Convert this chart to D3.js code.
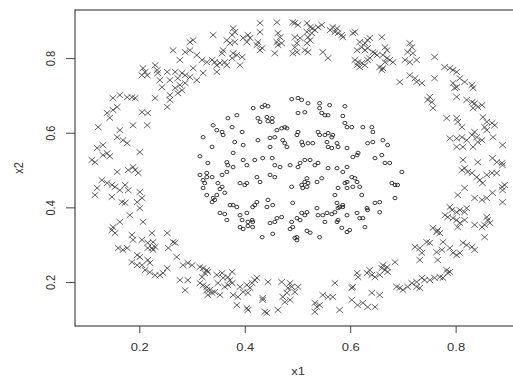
<!DOCTYPE html>
<html>
<head>
<meta charset="utf-8">
<script src="https://cdn.jsdelivr.net/npm/d3@7"></script>
<style>
  body { margin: 0; background: #fff; }
  svg { display: block; font-family: "Liberation Sans", Arial, sans-serif; }
</style>
</head>
<body>
<div id="chart"></div>
<script>
// axis setup
const xTicks = [0.2, 0.4, 0.6, 0.8];
const yTicks = [0.2, 0.4, 0.6, 0.8];
const xDomain = [0.078, 0.924];
const yDomain = [0.082, 0.929];

// outer ring, drawn as crosses (x1, x2)
const ringPoints = [
  [0.296,0.843],[0.302,0.848],[0.264,0.821],[0.287,0.816],[0.296,0.821],[0.309,0.808],[0.277,0.795],[0.319,0.795],
  [0.328,0.789],[0.302,0.773],[0.207,0.773],[0.211,0.763],[0.205,0.754],[0.215,0.754],[0.230,0.781],[0.234,0.768],
  [0.235,0.760],[0.253,0.763],[0.268,0.763],[0.281,0.760],[0.287,0.754],[0.296,0.749],[0.309,0.741],[0.321,0.760],
  [0.239,0.741],[0.258,0.741],[0.273,0.746],[0.243,0.722],[0.268,0.720],[0.277,0.728],[0.287,0.733],[0.258,0.701],
  [0.273,0.706],[0.281,0.714],[0.230,0.693],[0.253,0.669],[0.258,0.688],[0.150,0.693],[0.163,0.701],[0.177,0.695],
  [0.186,0.695],[0.192,0.693],[0.139,0.653],[0.150,0.661],[0.158,0.669],[0.144,0.640],[0.205,0.655],[0.216,0.653],
  [0.122,0.615],[0.188,0.620],[0.215,0.620],[0.163,0.607],[0.158,0.588],[0.169,0.580],[0.177,0.572],[0.120,0.559],
  [0.131,0.567],
  [0.201,0.548],[0.131,0.540],[0.144,0.537],[0.139,0.545],[0.110,0.527],[0.116,0.521],[0.158,0.495],[0.179,0.500],
  [0.188,0.508],[0.192,0.500],[0.198,0.492],[0.129,0.473],[0.139,0.465],[0.148,0.460],[0.154,0.455],[0.163,0.446],
  [0.173,0.460],[0.179,0.446],[0.120,0.452],[0.116,0.433],[0.201,0.441],[0.148,0.428],[0.167,0.414],[0.173,0.412],
  [0.196,0.414],[0.205,0.425],[0.201,0.398],[0.182,0.379],[0.163,0.361],[0.207,0.361],[0.150,0.347],[0.148,0.339],
  [0.154,0.331],[0.186,0.326],[0.188,0.313],[0.224,0.331],[0.205,0.313],[0.216,0.305],[0.226,0.307],[0.230,0.294],
  [0.253,0.331],[0.264,0.307],[0.268,0.305],[0.160,0.291],[0.169,0.286],[0.177,0.291],[0.216,0.291],[0.224,0.291],
  [0.226,0.286],[0.255,0.291],[0.196,0.272],[0.201,0.267],[0.186,0.253],[0.196,0.245],[0.205,0.245],[0.216,0.259],
  [0.220,0.251],[0.271,0.267],[0.283,0.245],[0.292,0.251],[0.300,0.245],[0.253,0.237],[0.211,0.232],[0.220,0.226],
  [0.230,0.218],[0.239,0.218],[0.245,0.224],[0.315,0.240],[0.328,0.232],[0.277,0.205],[0.292,0.205],[0.287,0.178],
  [0.321,0.191],[0.328,0.178],
  [0.340,0.862],[0.378,0.880],[0.381,0.870],[0.376,0.862],[0.366,0.848],[0.372,0.840],[0.381,0.843],[0.397,0.854],
  [0.406,0.862],[0.410,0.854],[0.404,0.843],[0.429,0.894],[0.429,0.870],[0.425,0.843],[0.423,0.835],[0.429,0.821],
  [0.433,0.827],[0.461,0.896],[0.463,0.867],[0.467,0.856],[0.461,0.843],[0.470,0.840],[0.463,0.835],[0.457,0.813],
  [0.491,0.896],[0.495,0.894],[0.501,0.889],[0.495,0.856],[0.505,0.854],[0.499,0.840],[0.495,0.829],[0.518,0.894],
  [0.524,0.883],[0.518,0.870],[0.527,0.867],[0.520,0.856],[0.524,0.848],[0.518,0.840],[0.529,0.880],[0.533,0.875],
  [0.539,0.883],[0.546,0.889],[0.491,0.813],[0.499,0.816],[0.514,0.821],[0.520,0.816],[0.548,0.816],[0.558,0.800],
  [0.562,0.875],[0.567,0.883],[0.571,0.870],[0.577,0.867],[0.584,0.862],[0.586,0.856],[0.575,0.880],[0.359,0.821],
  [0.357,0.813],[0.378,0.813],[0.385,0.808],[0.376,0.800],[0.395,0.803],[0.391,0.781],[0.338,0.795],[0.343,0.789],
  [0.347,0.781],[0.353,0.787],[0.362,0.789],[0.366,0.781],[0.347,0.763],
  [0.321,0.237],[0.330,0.227],[0.324,0.224],[0.319,0.213],[0.315,0.197],[0.328,0.187],[0.334,0.179],[0.338,0.171],
  [0.330,0.165],[0.347,0.219],[0.357,0.224],[0.359,0.211],[0.368,0.213],[0.376,0.227],[0.372,0.205],[0.349,0.197],
  [0.362,0.187],[0.368,0.192],[0.376,0.197],[0.343,0.173],[0.353,0.165],[0.378,0.165],[0.387,0.160],[0.391,0.187],
  [0.404,0.192],[0.410,0.184],[0.414,0.197],[0.419,0.205],[0.423,0.211],[0.397,0.173],[0.406,0.171],[0.444,0.200],
  [0.470,0.200],[0.486,0.197],[0.489,0.187],[0.495,0.173],[0.482,0.184],[0.480,0.171],[0.472,0.160],[0.501,0.187],
  [0.571,0.197],[0.548,0.165],[0.558,0.160],[0.567,0.160],[0.434,0.157],
  [0.385,0.138],[0.404,0.130],[0.406,0.125],[0.434,0.152],[0.438,0.120],[0.442,0.117],[0.463,0.125],[0.476,0.146],
  [0.486,0.152],[0.533,0.144],[0.537,0.133],[0.533,0.120],[0.542,0.138],[0.580,0.125],[0.603,0.152],[0.614,0.138],
  [0.624,0.144],[0.633,0.133],[0.647,0.133],
  [0.605,0.867],[0.609,0.870],[0.618,0.843],[0.628,0.840],[0.633,0.848],[0.637,0.854],[0.613,0.821],[0.622,0.829],
  [0.628,0.821],[0.633,0.827],[0.660,0.856],[0.666,0.829],[0.670,0.821],[0.647,0.813],[0.643,0.816],[0.651,0.808],
  [0.662,0.808],[0.670,0.800],[0.666,0.789],[0.675,0.795],[0.609,0.795],[0.615,0.789],[0.613,0.781],[0.622,0.787],
  [0.618,0.776],[0.628,0.781],[0.633,0.795],[0.637,0.800],[0.656,0.776],[0.660,0.768],[0.662,0.773],[0.681,0.789],
  [0.713,0.840],[0.717,0.829],[0.709,0.816],[0.719,0.813],[0.704,0.795],[0.713,0.789],[0.726,0.795],[0.760,0.803],
  [0.779,0.776],[0.789,0.773],[0.795,0.768],[0.802,0.763],[0.694,0.736],[0.713,0.754],[0.723,0.746],[0.726,0.736],
  [0.736,0.733],[0.760,0.746],[0.808,0.746],[0.817,0.736],[0.831,0.728],[0.833,0.720],[0.795,0.733],[0.802,0.722],
  [0.798,0.720],[0.802,0.696],[0.751,0.696],[0.747,0.688],[0.755,0.682],[0.757,0.666],[0.821,0.688],[0.831,0.682],
  [0.836,0.679],[0.842,0.669],[0.833,0.666],[0.850,0.674],[0.783,0.639],[0.802,0.639],[0.804,0.629],[0.812,0.615],
  [0.852,0.642],[0.859,0.629],[0.869,0.626],[0.874,0.620],[0.855,0.615],[0.859,0.607],[0.789,0.585],[0.802,0.585],
  [0.812,0.588],[0.821,0.580],[0.831,0.594],[0.836,0.602],[0.840,0.588],[0.842,0.575],[0.850,0.580],[0.871,0.588],
  [0.889,0.567],[0.802,0.562],[0.814,0.562],[0.833,0.562],
  [0.814,0.527],[0.842,0.521],[0.870,0.532],[0.878,0.521],[0.888,0.519],[0.889,0.513],[0.812,0.500],[0.817,0.505],
  [0.823,0.495],[0.831,0.492],[0.840,0.481],[0.846,0.473],[0.851,0.465],[0.859,0.487],[0.869,0.492],[0.878,0.492],
  [0.817,0.452],[0.888,0.455],[0.889,0.446],[0.893,0.460],[0.804,0.433],[0.836,0.425],[0.850,0.420],[0.859,0.425],
  [0.870,0.439],[0.889,0.414],[0.789,0.401],[0.793,0.393],[0.802,0.387],[0.808,0.393],[0.817,0.387],[0.821,0.398],
  [0.780,0.379],[0.785,0.374],[0.795,0.371],[0.802,0.366],[0.808,0.358],[0.817,0.366],[0.804,0.347],[0.836,0.353],
  [0.850,0.347],[0.855,0.353],[0.861,0.366],[0.859,0.374],[0.865,0.358],[0.855,0.320],[0.757,0.345],[0.766,0.339],
  [0.764,0.334],[0.770,0.331],[0.776,0.307],[0.723,0.294],[0.732,0.291],[0.745,0.307],[0.751,0.305],[0.736,0.278],
  [0.764,0.280],[0.774,0.286],[0.789,0.291],[0.795,0.278],[0.802,0.272],[0.808,0.278],[0.814,0.305],[0.821,0.299],
  [0.831,0.294],[0.836,0.286],[0.732,0.259],[0.766,0.259],[0.685,0.253],[0.662,0.245],[0.670,0.240],[0.660,0.237],
  [0.666,0.232],[0.671,0.227],[0.637,0.232],[0.632,0.224],[0.641,0.219],[0.647,0.213],[0.656,0.219],[0.613,0.224],
  [0.615,0.213],[0.605,0.187],[0.603,0.184],[0.641,0.171],[0.656,0.165],[0.688,0.187],[0.694,0.184],[0.700,0.179],
  [0.709,0.187],[0.717,0.197],[0.726,0.200],[0.736,0.211],[0.741,0.205],[0.751,0.205],[0.760,0.211],[0.770,0.213],
  [0.776,0.211],[0.783,0.232],[0.789,0.227],[0.785,0.224],[0.726,0.187],[0.732,0.184]
];

// inner cluster, drawn as circles (x1, x2)
const corePoints = [
  [0.321,0.588],[0.315,0.537],[0.330,0.519],[0.315,0.487],[0.328,0.492],[0.321,0.473],[0.324,0.465],[0.321,0.452],
  [0.328,0.433],
  [0.489,0.690],[0.501,0.693],[0.508,0.688],[0.416,0.666],[0.433,0.669],[0.438,0.674],[0.444,0.671],[0.520,0.679],
  [0.542,0.679],[0.542,0.666],[0.561,0.674],[0.590,0.671],[0.501,0.653],[0.514,0.655],[0.546,0.653],[0.552,0.647],
  [0.558,0.647],[0.368,0.639],[0.385,0.647],[0.425,0.639],[0.442,0.642],[0.452,0.639],[0.429,0.629],[0.444,0.631],
  [0.452,0.629],[0.586,0.645],[0.340,0.620],[0.347,0.607],[0.357,0.602],[0.359,0.594],[0.376,0.615],[0.395,0.602],
  [0.461,0.607],[0.470,0.612],[0.476,0.615],[0.480,0.612],[0.501,0.602],[0.499,0.594],[0.539,0.602],[0.542,0.594],
  [0.552,0.594],[0.558,0.599],[0.565,0.588],[0.567,0.594],[0.590,0.626],[0.594,0.615],[0.338,0.562],[0.381,0.575],
  [0.397,0.567],[0.425,0.580],[0.448,0.586],[0.457,0.588],[0.448,0.562],[0.472,0.580],[0.476,0.572],[0.480,0.562],
  [0.508,0.575],[0.510,0.567],[0.520,0.572],[0.529,0.572],[0.556,0.575],[0.558,0.562],[0.565,0.559],[0.577,0.562],
  [0.575,0.572],[0.594,0.559],
  [0.378,0.546],[0.366,0.521],[0.368,0.513],[0.378,0.508],[0.397,0.527],[0.404,0.513],[0.419,0.527],[0.434,0.532],
  [0.452,0.532],[0.457,0.513],[0.467,0.508],[0.486,0.513],[0.501,0.508],[0.505,0.519],[0.514,0.527],[0.524,0.527],
  [0.533,0.513],[0.539,0.519],[0.558,0.505],[0.575,0.505],[0.586,0.495],[0.594,0.508],[0.328,0.481],[0.338,0.481],
  [0.357,0.487],[0.366,0.495],[0.423,0.481],[0.429,0.468],[0.448,0.487],[0.457,0.481],[0.518,0.478],[0.514,0.468],
  [0.520,0.465],[0.518,0.455],[0.510,0.452],[0.508,0.460],[0.537,0.468],[0.546,0.478],[0.590,0.465],[0.594,0.468],
  [0.349,0.465],[0.357,0.455],[0.353,0.449],[0.391,0.465],[0.400,0.460],[0.404,0.465],[0.489,0.455],[0.577,0.452],
  [0.594,0.452],[0.340,0.425],[0.338,0.414],[0.343,0.420],[0.347,0.433],[0.362,0.439],[0.372,0.406],[0.378,0.406],
  [0.385,0.401],[0.415,0.401],[0.419,0.406],[0.423,0.414],[0.444,0.420],[0.453,0.406],[0.442,0.401],[0.491,0.412],
  [0.537,0.398],[0.571,0.433],[0.575,0.412],[0.580,0.401],[0.586,0.406],[0.353,0.385],[0.362,0.382],[0.366,0.366],
  [0.391,0.379],[0.395,0.366],[0.404,0.385],[0.406,0.361],[0.414,0.366],[0.415,0.361],[0.391,0.347],[0.397,0.342],
  [0.406,0.350],[0.415,0.347],[0.433,0.320],[0.448,0.358],[0.457,0.361],[0.461,0.371],[0.470,0.374],[0.453,0.329],
  [0.486,0.342],[0.489,0.361],[0.491,0.347],[0.499,0.371],[0.505,0.366],[0.508,0.385],[0.514,0.379],[0.518,0.387],
  [0.539,0.379],[0.548,0.379],[0.556,0.385],[0.565,0.382],[0.571,0.387],[0.577,0.398],[0.586,0.401],[0.552,0.361],
  [0.575,0.361],[0.584,0.345],[0.577,0.366],[0.499,0.320],[0.499,0.312],[0.495,0.318],[0.518,0.337],[0.524,0.332],
  [0.542,0.320],[0.594,0.334],[0.594,0.379],
  [0.603,0.615],[0.624,0.615],[0.641,0.615],[0.643,0.602],[0.633,0.572],[0.643,0.575],[0.662,0.580],[0.671,0.567],
  [0.613,0.540],[0.605,0.535],[0.615,0.546],[0.647,0.532],[0.660,0.540],[0.666,0.519],[0.675,0.519],[0.698,0.495],
  [0.603,0.481],[0.609,0.478],[0.613,0.468],[0.605,0.455],[0.618,0.455],[0.679,0.465],[0.685,0.460],[0.690,0.460],
  [0.622,0.433],[0.647,0.412],[0.656,0.414],[0.685,0.425],[0.632,0.398],[0.633,0.393],[0.613,0.385],[0.618,0.371],
  [0.624,0.371],[0.656,0.387],[0.628,0.347],[0.599,0.339]
];

const width = 513, height = 379;
const plot = { left: 75, right: 521, top: 10, bottom: 326 };

const x = d3.scaleLinear().domain(xDomain).range([plot.left, plot.right]);
const y = d3.scaleLinear().domain(yDomain).range([plot.bottom, plot.top]);

const svg = d3.select("#chart").append("svg")
  .attr("width", width)
  .attr("height", height);

// points
svg.append("g")
  .selectAll("path")
  .data(ringPoints).enter()
  .append("path")
  .attr("transform", d => "translate(" + x(d[0]) + "," + y(d[1]) + ")")
  .attr("d", "M-3.3,-2.9L3.3,2.9M-3.3,2.9L3.3,-2.9")
  .attr("fill", "none")
  .attr("stroke", "#3a3a3a")
  .attr("stroke-width", 0.8);

svg.append("g")
  .selectAll("ellipse")
  .data(corePoints).enter()
  .append("ellipse")
  .attr("cx", d => x(d[0]))
  .attr("cy", d => y(d[1]))
  .attr("rx", 2.0)
  .attr("ry", 1.7)
  .attr("fill", "none")
  .attr("stroke", "#222")
  .attr("stroke-width", 0.9);

// box
svg.append("rect")
  .attr("x", plot.left)
  .attr("y", plot.top)
  .attr("width", plot.right - plot.left)
  .attr("height", plot.bottom - plot.top)
  .attr("fill", "none")
  .attr("stroke", "#222")
  .attr("stroke-width", 1);

// x axis
const gx = svg.append("g")
  .attr("transform", "translate(0," + plot.bottom + ")")
  .call(d3.axisBottom(x).tickValues(xTicks).tickSize(7).tickPadding(10).tickFormat(d3.format(".1f")));
gx.select(".domain").remove();
gx.selectAll(".tick line").attr("stroke", "#444");
gx.selectAll(".tick text")
  .attr("font-size", 11)
  .attr("font-family", "Liberation Sans, Arial, sans-serif")
  .attr("fill", "#333")
  .attr("transform", "scale(1.18,1)");

// y axis, labels turned like R does
const gy = svg.append("g")
  .attr("transform", "translate(" + plot.left + ",0)")
  .call(d3.axisLeft(y).tickValues(yTicks).tickSize(9).tickFormat(d3.format(".1f")));
gy.select(".domain").remove();
gy.selectAll(".tick line").attr("stroke", "#444");
gy.selectAll(".tick text")
  .attr("x", 0).attr("y", 0).attr("dy", 0)
  .attr("text-anchor", "middle")
  .attr("font-size", 11)
  .attr("font-family", "Liberation Sans, Arial, sans-serif")
  .attr("fill", "#333")
  .attr("transform", "translate(-20,0) scale(1.2,1) rotate(-90)");

// axis titles
svg.append("text")
  .attr("transform", "translate(" + ((plot.left + plot.right) / 2) + ",375) scale(1.18,1)")
  .attr("text-anchor", "middle")
  .attr("font-size", 11)
  .attr("fill", "#333")
  .text("x1");

svg.append("text")
  .attr("transform", "translate(23," + ((plot.top + plot.bottom) / 2) + ") scale(1.2,1) rotate(-90)")
  .attr("text-anchor", "middle")
  .attr("font-size", 11)
  .attr("fill", "#333")
  .text("x2");
</script>
</body>
</html>
